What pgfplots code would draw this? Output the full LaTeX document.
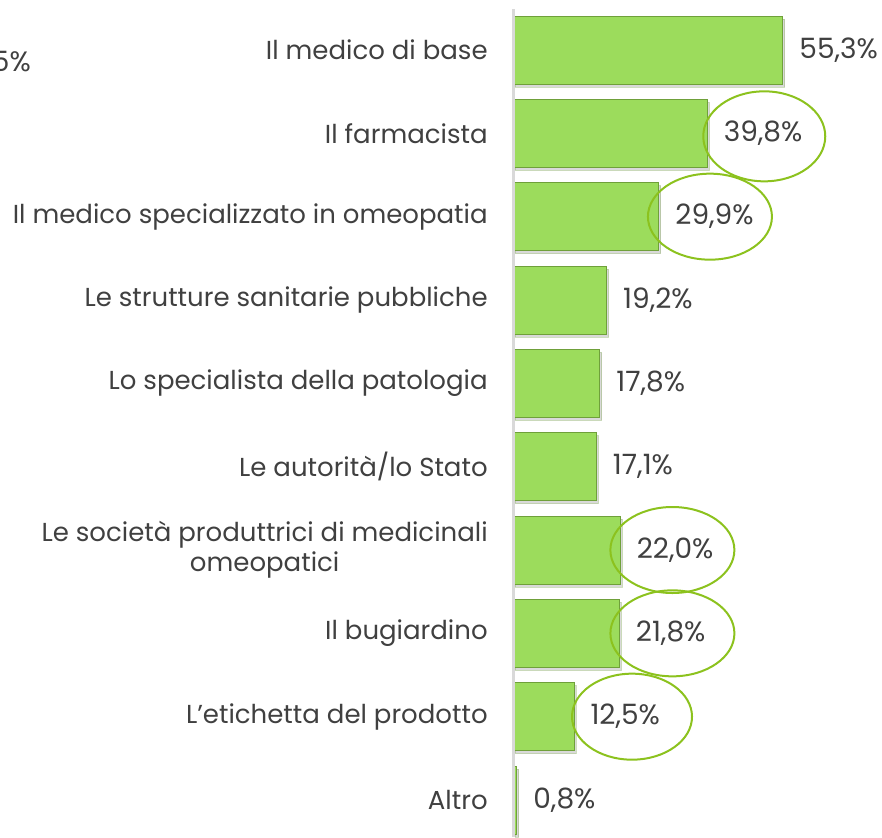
\documentclass[border=0pt]{standalone}
\usepackage{pgfplots}
\pgfplotsset{compat=1.18}
\usetikzlibrary{shadows}
\usepackage{fontspec}
\setmainfont{Poppins}
\definecolor{txt}{HTML}{404040}
\definecolor{barMid}{HTML}{9CDC5C}
\definecolor{barEdge}{HTML}{6FA03A}
\definecolor{ellc}{HTML}{8CC21E}
\definecolor{axc}{HTML}{D9D9D9}
\begin{document}
\begin{tikzpicture}[x=1pt,y=1pt]
\useasboundingbox (0,0) rectangle (882,837);
\node[anchor=east, font=\fontsize{28}{33}\selectfont, text=txt, inner sep=0pt] at (31,775) {5\%};
\begin{axis}[
  at={(513pt,0pt)}, anchor=south west,
  scale only axis, width=369pt, height=837pt,
  xmin=0, xmax=75.6, ymin=-0.6, ymax=9.444,
  y dir=reverse,
  xbar, bar width=0.816,
  axis x line=none,
  axis y line=left,
  y axis line style={draw=none,-},
  ytick style={draw=none},
  ytick={0,...,9},
  yticklabels={Il medico di base, Il farmacista, Il medico specializzato in omeopatia, Le strutture sanitarie pubbliche, Lo specialista della patologia, Le autorità/lo Stato, {Le società produttrici di medicinali\\omeopatici}, Il bugiardino, L'etichetta del prodotto, Altro},
  yticklabel style={font=\fontsize{26}{30}\selectfont, text=txt, inner sep=0pt, xshift=-23pt, align=center},
  point meta=x,
  nodes near coords={\pgfmathprintnumber[use comma,fixed,fixed zerofill,precision=1,assume math mode=true]{\pgfplotspointmeta}\%},
  nodes near coords style={anchor=west, inner sep=0pt, xshift=16pt, font=\fontsize{28}{33}\selectfont, text=txt},
  clip=false,
]
\addplot[draw=barEdge, line width=1pt, fill=barMid, drop shadow={shadow xshift=2pt, shadow yshift=-3pt, opacity=0.3}] coordinates {
 (55.3,0) (39.8,1) (29.9,2) (19.2,3) (17.8,4) (17.1,5) (22.0,6) (21.8,7) (12.5,8) (0.8,9)};
\draw[axc, line width=3pt] (axis cs:0,-0.49) -- (axis cs:0,9.444);
\draw[ellc, line width=2pt] ([xshift=57pt,yshift=-3pt]axis cs:39.8,1) ellipse [x radius=61pt, y radius=45pt];
\draw[ellc, line width=2pt] ([xshift=51pt]axis cs:29.9,2) ellipse [x radius=62pt, y radius=43pt];
\draw[ellc, line width=2pt] ([xshift=52pt]axis cs:22.0,6) ellipse [x radius=62pt, y radius=43pt];
\draw[ellc, line width=2pt] ([xshift=53pt]axis cs:21.8,7) ellipse [x radius=62pt, y radius=43pt];
\draw[ellc, line width=2pt] ([xshift=58pt]axis cs:12.5,8) ellipse [x radius=60pt, y radius=43pt];
\end{axis}
\end{tikzpicture}
\end{document}
